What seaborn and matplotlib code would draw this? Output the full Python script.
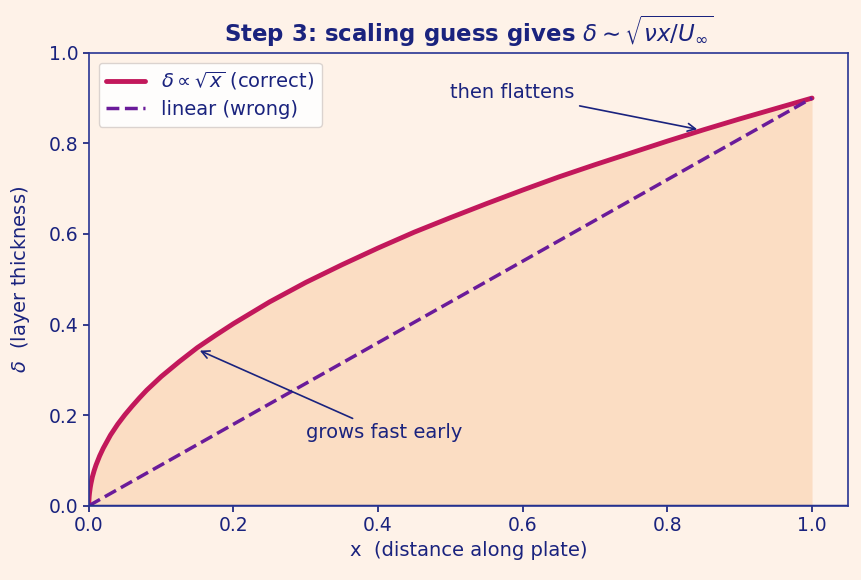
import matplotlib
matplotlib.use("Agg")
import matplotlib.pyplot as plt
import seaborn as sns
import pandas as pd

# values
x_pos = [0.0, 0.0001, 0.0005, 0.001, 0.002, 0.003, 0.005, 0.0075, 0.01, 0.015, 0.02, 0.03,
         0.04, 0.05, 0.06, 0.07, 0.08, 0.09, 0.1, 0.125, 0.15, 0.175, 0.2, 0.25, 0.3, 0.35,
         0.4, 0.45, 0.5, 0.55, 0.6, 0.65, 0.7, 0.75, 0.8, 0.85, 0.9, 0.95, 1.0]
delta_sqrt = [0.0, 0.009, 0.020, 0.028, 0.040, 0.049, 0.064, 0.078, 0.090, 0.110, 0.127, 0.156,
              0.180, 0.201, 0.220, 0.238, 0.255, 0.270, 0.285, 0.318, 0.349, 0.376, 0.402, 0.450,
              0.493, 0.532, 0.569, 0.604, 0.636, 0.667, 0.697, 0.726, 0.753, 0.779, 0.805, 0.830,
              0.854, 0.877, 0.900]
x_lin = [0.0, 1.0]
delta_lin = [0.0, 0.9]

bg = "#FEF2E8"
navy = "#1A237E"
crimson = "#C2185B"
purple = "#6A1B9A"

sns.set_theme(style="white")
plt.rcParams.update({"font.family": ["DejaVu Sans"], "axes.facecolor": bg, "figure.facecolor": bg,
                     "text.color": navy, "axes.labelcolor": navy,
                     "xtick.color": navy, "ytick.color": navy})

df = pd.DataFrame({"x": x_pos, "delta": delta_sqrt})
df_lin = pd.DataFrame({"x": x_lin, "delta": delta_lin})

fig, ax = plt.subplots(figsize=(8.62, 5.8), dpi=100)
ax.fill_between(df["x"], 0, df["delta"], color="#F9C9A0", alpha=0.5, lw=0)
sns.lineplot(data=df, x="x", y="delta", ax=ax, color=crimson, lw=3.5,
             label=r"$\delta \propto \sqrt{x}$ (correct)")
sns.lineplot(data=df_lin, x="x", y="delta", ax=ax, color=purple, lw=2.5,
             linestyle="--", label="linear (wrong)")
ax.axhline(0, color=navy, lw=2.5)

ax.set_xlim(0, 1.05)
ax.set_ylim(0, 1.0)
ax.set_title(r"Step 3: scaling guess gives $\delta \sim \sqrt{\nu x / U_\infty}$",
             fontsize=16.5, fontweight="bold", color=navy, pad=8)
ax.set_xlabel("x  (distance along plate)", fontsize=14)
ax.set_ylabel(r"$\delta$  (layer thickness)", fontsize=14, labelpad=12)
ax.tick_params(labelsize=13.5, length=4, color=navy, left=True, bottom=True)
for s in ax.spines.values():
    s.set_color("#283593")
    s.set_linewidth(1.2)

ax.annotate("then flattens", xy=(0.845, 0.83), xytext=(0.5, 0.9), fontsize=14, color=navy,
            arrowprops=dict(arrowstyle="->", color=navy, lw=1.2))
ax.annotate("grows fast early", xy=(0.15, 0.345), xytext=(0.3, 0.15), fontsize=14, color=navy,
            arrowprops=dict(arrowstyle="->", color=navy, lw=1.2))

leg = ax.legend(loc="upper left", fontsize=14, frameon=True, facecolor="white",
                edgecolor="#D8D0CC", framealpha=0.9, borderpad=0.4, labelspacing=0.4)
for t in leg.get_texts():
    t.set_color(navy)

fig.subplots_adjust(left=0.103, right=0.984, top=0.909, bottom=0.128)
fig.savefig("out.png", dpi=100, facecolor=bg)
